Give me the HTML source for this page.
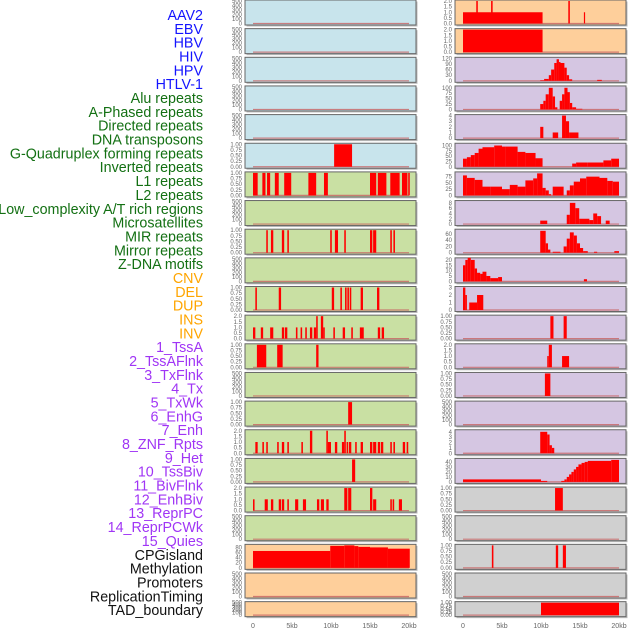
<!DOCTYPE html>
<html><head><meta charset="utf-8"><style>
body{margin:0;background:#fff;width:630px;height:630px;overflow:hidden}
svg{display:block;font-family:"Liberation Sans",sans-serif}
</style></head><body>
<svg id="chart" width="630" height="630"></svg>
<script>
const trackLabels=["AAV2","EBV","HBV","HIV","HPV","HTLV-1","Alu repeats","A-Phased repeats","Directed repeats","DNA transposons","G-Quadruplex forming repeats","Inverted repeats","L1 repeats","L2 repeats","Low_complexity A/T rich regions","Microsatellites","MIR repeats","Mirror repeats","Z-DNA motifs","CNV","DEL","DUP","INS","INV","1_TssA","2_TssAFlnk","3_TxFlnk","4_Tx","5_TxWk","6_EnhG","7_Enh","8_ZNF_Rpts","9_Het","10_TssBiv","11_BivFlnk","12_EnhBiv","13_ReprPC","14_ReprPCWk","15_Quies","CPGisland","Methylation","Promoters","ReplicationTiming","TAD_boundary"];
const labelGroups=[6,13,5,15,5];
const xTickLabels=["0","5kb","10kb","15kb","20kb"];
const xTickValues=[0,5,10,15,20];
const tEmpty=[0,100,200,300,400,500];
const tBin=[0,0.25,0.5,0.75,1];
const tTwo=[0,0.5,1,1.5,2];
// segments: [startKb, endKb, value]
const segL6=[[10.4,12.7,1]];
const segL7=[[0,0.6,1],[1.2,1.6,1],[1.8,2.2,1],[2.8,3.3,1],[4.0,4.9,1],[7.1,8.1,1],[9.1,9.6,1],[15.0,15.8,1],[16.0,17.1,1],[17.6,18.8,1],[19.1,19.8,1],[19.9,20.1,1]];
const segL9=[[1.7,1.9,1],[2.3,2.6,1],[3.7,4.0,1],[4.4,4.6,1],[9.9,10.1,1],[10.5,10.9,1],[11.7,11.9,1],[15.0,15.3,1],[15.4,15.8,1],[17.6,17.8,1],[18.0,18.2,1]];
const segL11=[[0.3,0.5,1],[3.3,3.6,1],[10.1,10.4,1],[11.2,11.4,1],[11.8,12.0,1],[12.1,12.3,1],[12.4,12.6,1],[13.8,14.1,1],[15.9,16.2,1]];
const segL12=[[0,0.3,1],[1.0,1.3,1],[2.2,2.6,1],[3.7,4.0,1],[4.1,4.4,1],[5.5,5.7,1],[6.1,6.3,1],[6.7,6.9,1],[7.3,7.6,1],[7.8,8.1,1],[8.1,8.3,2],[8.7,9.0,2],[9.0,9.2,1],[10.3,10.5,1],[11.5,11.8,1],[12.6,12.8,1],[13.7,14.2,1],[16.0,16.3,1],[16.5,16.8,1]];
const segL13=[[0.5,1.7,1],[3.1,3.8,1],[8.1,8.4,1]];
const segL15=[[12.2,12.7,1]];
const segL16=[[0.3,0.6,1],[1.2,1.4,1],[1.7,1.9,1],[3.1,3.3,1],[3.7,4.0,1],[4.4,4.6,1],[6.2,6.4,1],[7.3,7.6,2],[9.4,9.6,2],[9.6,10.0,1],[10.5,10.8,1],[11.4,11.7,1],[11.7,11.9,2],[12.0,12.2,1],[12.3,12.6,1],[13.1,13.3,1],[13.8,14.1,1],[15.0,15.3,1],[15.4,15.8,1],[16.0,16.3,1],[16.4,16.7,1],[17.6,17.8,1],[18.0,18.2,1],[19.2,19.5,1],[19.7,19.9,1]];
const segL17=[[12.7,13.1,1]];
const segL18=[[0,0.2,1],[1.5,1.9,1],[2.3,2.6,1],[3.3,3.6,1],[3.7,4.0,1],[4.4,4.6,1],[5.4,5.8,1],[6.4,6.8,1],[8.2,8.5,1],[8.7,9.1,1],[9.4,9.7,1],[11.7,12.1,2],[12.2,12.6,2],[15.0,15.3,2],[15.4,15.8,1],[17.6,17.8,1],[17.9,18.1,1],[18.7,19.1,1]];
const segL20=[[0,9.9,66],[9.9,11.7,86],[11.7,13.0,88],[13.0,13.5,85],[13.5,15.0,82],[15.0,17.3,80],[17.3,20.1,75]];
const segR1=[[0,10.2,1],[1.7,1.9,2],[3.6,3.8,2],[13.5,13.7,2],[15.5,15.65,1]];
const segR2=[[0,10.2,2]];
const segR3=[[9.9,10.4,3],[10.4,11,10],[11,11.3,30],[11.3,11.7,60],[11.7,12,95],[12,12.3,115],[12.3,12.5,100],[12.5,13,95],[13,13.3,70],[13.3,13.6,30],[13.6,14,8],[17.2,17.8,5]];
const segR4=[[9.9,10.3,25],[10.3,10.6,40],[10.6,11,70],[11,11.5,100],[11.5,11.8,60],[11.8,12.1,10],[12.4,12.7,40],[12.7,13,70],[13,13.4,100],[13.4,13.7,80],[13.7,14,30],[14,14.5,10],[14.5,15.3,3]];
const segR5=[[9.9,10.3,2],[11.5,12.2,1],[12.7,13.2,4],[13.2,13.6,3],[13.6,14.8,1]];
const segR6=[[0,0.5,38],[0.5,1,45],[1,1.5,55],[1.5,2,65],[2,2.5,85],[2.5,4,92],[4,5,100],[5,5.5,95],[5.5,7,95],[7,8,70],[8,9.3,65],[9.3,10.2,40],[14,14.5,15],[14.5,16,20],[16,18,20],[18,19,30],[19,20,38]];
const segR7=[[0,0.5,80],[0.5,1.5,70],[1.5,2.5,62],[2.5,3.5,35],[3.5,5,35],[5,6,25],[6,7,42],[7,8,35],[8,9,60],[9,9.5,68],[9.5,10.2,88],[10.2,10.6,30],[10.6,11,20],[11,11.3,5],[11.5,12.9,35],[13.3,13.7,20],[13.7,14.2,40],[14.2,15,55],[15,15.8,68],[15.8,17.5,75],[17.5,18.5,70],[18.5,19.2,58],[19.2,20,55]];
const segR8=[[9.9,10.8,1.3],[13.3,13.7,3.5],[13.7,14.4,8],[14.4,14.9,6],[14.9,16.2,2],[16.2,16.7,1.5],[16.7,17.2,4],[17.2,17.7,3],[18.3,18.8,1.3]];
const segR9=[[9.9,10.6,70],[10.6,10.9,30],[10.9,11.2,10],[11.5,12.5,3],[12.9,13.3,20],[13.3,13.7,45],[13.7,14.2,65],[14.2,14.6,55],[14.6,15,30],[15,15.4,15],[15.4,16,5],[16.8,17.2,3],[19.4,20,5]];
const segR10=[[0,0.3,15],[0.3,0.6,20],[0.6,1.0,22],[1.0,1.5,20],[1.5,1.8,12],[1.8,2.2,8],[2.2,2.5,7],[2.5,3.0,9],[3.0,3.5,5],[3.5,4.5,3],[4.5,5.0,4],[15.5,15.9,2]];
const segR11=[[0,0.3,3],[0.3,0.5,2],[0.8,1.8,1],[1.8,2.6,2]];
const segR12=[[11.2,11.6,1],[12.9,13.3,1]];
const segR13=[[10.8,11.0,1],[11.0,11.4,2],[12.7,13.6,1]];
const segR14=[[10.5,11.2,1]];
const segR16=[[9.9,10.8,4],[10.8,11.1,3.5],[11.1,11.4,1.5],[11.4,11.7,1]];
const segR17=[[0,10,5],[10,10.8,2],[12.6,13.0,2],[13.0,13.3,5],[13.3,13.6,10],[13.6,13.9,15],[13.9,14.2,20],[14.2,14.5,25],[14.5,14.8,30],[14.8,15.2,35],[15.2,15.6,38],[15.6,16,40],[16,19,42],[19,20,44]];
const segR18=[[11.8,12.8,1]];
const segR20=[[3.7,3.9,1],[11.9,12.2,1],[12.8,13.2,1]];
const segR22=[[10,20,1]];

const BLUE="#c8e4ec",GREEN="#c9e0a3",ORANGE="#fecf9b",PURPLE="#d5c6e2",GRAY="#d0d0d0";
const leftPanels=[
 [BLUE,null,tEmpty,500],[BLUE,null,tEmpty,500],[BLUE,null,tEmpty,500],[BLUE,null,tEmpty,500],[BLUE,null,tEmpty,500],
 [BLUE,segL6,tBin,1],[GREEN,segL7,tBin,1],[GREEN,null,tEmpty,500],[GREEN,segL9,tBin,1],[GREEN,null,tEmpty,500],
 [GREEN,segL11,tBin,1],[GREEN,segL12,tTwo,2],[GREEN,segL13,tBin,1],[GREEN,null,tEmpty,500],[GREEN,segL15,tBin,1],
 [GREEN,segL16,tTwo,2],[GREEN,segL17,tBin,1],[GREEN,segL18,tTwo,2],[GREEN,null,tEmpty,500],[ORANGE,segL20,[0,20,40,60,80],88],
 [ORANGE,null,tEmpty,500],[ORANGE,null,tEmpty,500]];
const rightPanels=[
 [ORANGE,segR1,tTwo,2],[ORANGE,segR2,tTwo,2],[PURPLE,segR3,[0,30,60,90,120],120],[PURPLE,segR4,[0,25,50,75,100],104],[PURPLE,segR5,[0,1,2,3,4],4],
 [PURPLE,segR6,[0,25,50,75,100],106],[PURPLE,segR7,[0,25,50,75],90],[PURPLE,segR8,[0,2,4,6,8],8.5],[PURPLE,segR9,[0,20,40,60],72],[PURPLE,segR10,[0,5,10,15,20],21],
 [PURPLE,segR11,[0,1,2,3],3],[PURPLE,segR12,tBin,1],[PURPLE,segR13,tTwo,2],[PURPLE,segR14,tBin,1],[PURPLE,null,tEmpty,500],
 [PURPLE,segR16,[0,1,2,3,4],4.2],[PURPLE,segR17,[0,10,20,30,40],45],[GRAY,segR18,tBin,1],[GRAY,null,tEmpty,500],[GRAY,segR20,tBin,1],
 [GRAY,null,tEmpty,500],[GRAY,segR22,tBin,1]];

const NS="http://www.w3.org/2000/svg";
const svg=document.getElementById("chart");
function mk(tag,attrs,parent){const e=document.createElementNS(NS,tag);for(const k in attrs)e.setAttribute(k,attrs[k]);(parent||svg).appendChild(e);return e;}

const groupColors=["#1414ff","#137013","#ffa500","#a035f5","#111111"];
let gi=0,cnt=0;
trackLabels.forEach((t,i)=>{
  while(cnt>=labelGroups[gi]){gi++;cnt=0;}
  cnt++;
  const el=mk("text",{x:203,y:20+i*13.84,"text-anchor":"end","font-size":"14.3",fill:groupColors[gi]});
  el.textContent=t;
  
  
});

function xScale(x0,v){return x0+v*7.8;}
function drawColumn(panels,left,x0,col){
  panels.forEach((p,i)=>{
    const [bg,segs,ticks,ymax]=p;
    const top=i*28.65, h=(i===21)?15:25, bot=top+h;
    const g=mk("g",{});
    
    
    mk("rect",{x:left+1.5,y:top+1.5,width:171,height:h,fill:"#bbbbbb"},g);
    mk("rect",{x:left,y:top,width:171,height:h,fill:bg,stroke:"#666",'stroke-width':1},g);
    const y0=bot-1.5, yr=h-2.5;
    const yS=v=>y0-v/ymax*yr;
    mk("line",{x1:xScale(x0,0),x2:xScale(x0,20),y1:y0,y2:y0,stroke:"#c86464",'stroke-width':1.2,opacity:0.8},g);
    if(segs){segs.forEach(s=>{
      const r=mk("rect",{x:xScale(x0,s[0]),y:yS(s[2]),width:Math.max(1.2,xScale(x0,s[1])-xScale(x0,s[0])),height:y0-yS(s[2]),fill:"#ff0000"},g);
      
      
    });}
    ticks.forEach(t=>{
      const dec=(ticks===tBin)?2:(ticks===tTwo?1:0);
      const tx=mk("text",{x:left-3,y:yS(t)+2,'text-anchor':'end','font-size':'6',fill:'#666'},g);
      tx.textContent=t.toFixed(dec);
    });
  });
  xTickValues.forEach((v,k)=>{
    const tx=mk("text",{x:xScale(x0,v),y:628,'text-anchor':'middle','font-size':'7',fill:'#666'});
    tx.textContent=xTickLabels[k];
    
    
  });
}
drawColumn(leftPanels,245,253,'left');
drawColumn(rightPanels,455,463,'right');
</script>
</body></html>
